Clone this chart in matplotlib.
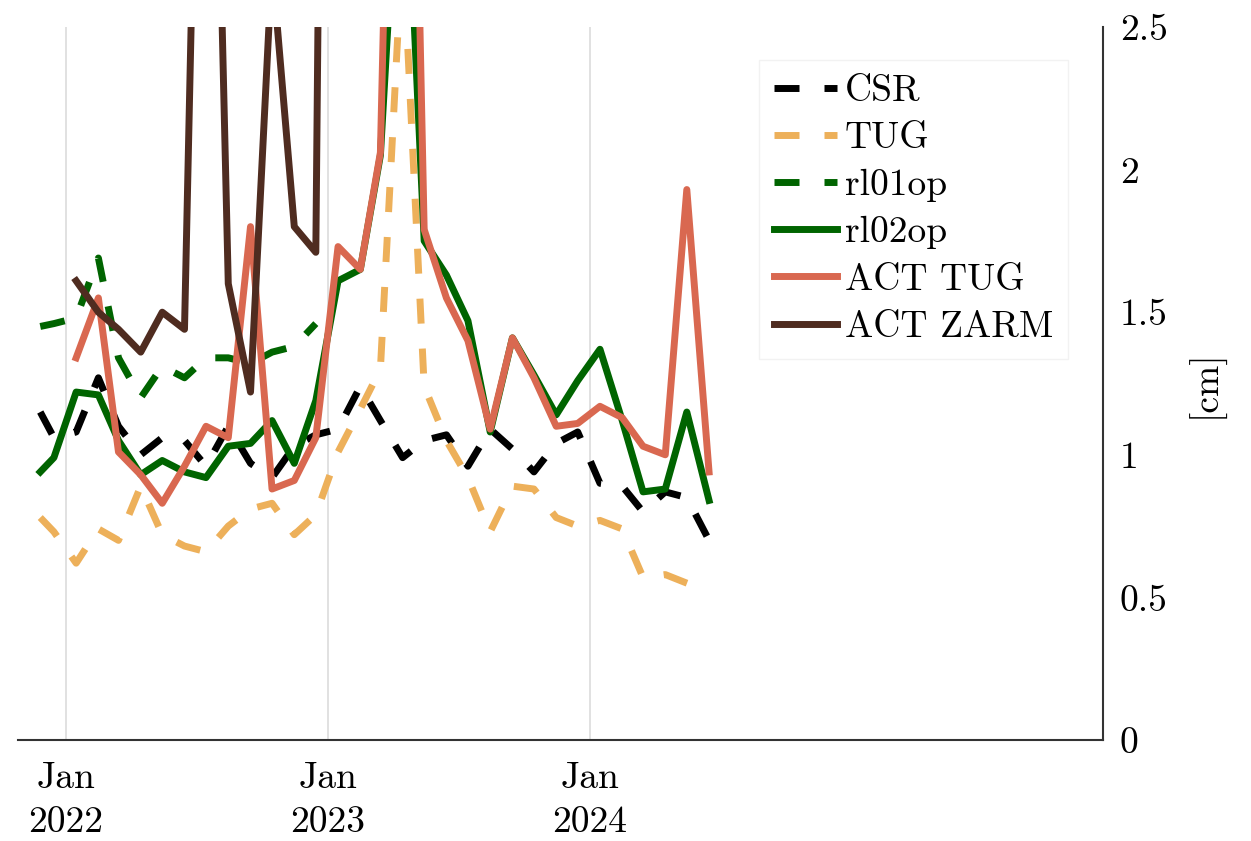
import matplotlib
matplotlib.use('Agg')
import matplotlib.pyplot as plt
import numpy as np
import pandas as pd

plt.rcParams['font.family'] = ['cmr10', 'DejaVu Serif']
plt.rcParams['axes.formatter.use_mathtext'] = True
plt.rcParams['mathtext.fontset'] = 'cm'

nan = np.nan

# monthly solutions, first one is a short end-of-Nov 2021 month
dates = pd.to_datetime(['2021-11-26']).append(
    pd.date_range('2021-12-01', '2024-06-01', freq='MS') + pd.Timedelta(days=14))

csr = [1.15, 1.06,
       1.08, 1.27, 1.10, 1.00, 1.06, 1.05, 0.96, 1.10, 0.97, 0.92, 1.03, 1.07,
       1.09, 1.24, 1.12, 0.99, 1.05, 1.07, 0.96, 1.09, 1.02, 0.94, 1.04, 1.08,
       0.90, 0.89, 0.80, 0.87, 0.85, 0.70]
tug = [0.78, 0.73,
       0.62, 0.74, 0.70, 0.89, 0.72, 0.68, 0.66, 0.75, 0.81, 0.83, 0.72, 0.79,
       1.01, 1.16, 1.30, 2.80, 1.24, 1.05, 0.92, 0.73, 0.89, 0.88, 0.78, 0.75,
       0.77, 0.74, 0.57, 0.58, 0.55, 0.52]
rl01op = [1.45, 1.46,
          1.48, 1.69, 1.34, 1.20, 1.31, 1.27, 1.34, 1.34, 1.32, 1.36, 1.38, 1.46,
          nan, nan, nan, nan, nan, nan, nan, nan, nan, nan, nan, nan,
          nan, nan, nan, nan, nan, nan]
rl02op = [0.94, 0.99,
          1.22, 1.21, 1.05, 0.93, 0.98, 0.94, 0.92, 1.03, 1.04, 1.12, 0.97, 1.19,
          1.61, 1.65, 2.05, 3.40, 1.75, 1.63, 1.47, 1.08, 1.41, 1.28, 1.14, 1.26,
          1.37, 1.12, 0.87, 0.88, 1.15, 0.84]
act_tug = [nan, nan,
           1.34, 1.55, 1.01, 0.93, 0.83, 0.96, 1.10, 1.06, 1.80, 0.88, 0.91, 1.06,
           1.73, 1.65, 2.06, 5.40, 1.79, 1.55, 1.40, 1.09, 1.41, 1.27, 1.10, 1.11,
           1.17, 1.13, 1.03, 1.00, 1.93, 0.94]
act_zarm = [nan, nan,
            1.61, 1.50, 1.44, 1.36, 1.50, 1.44, 4.90, 1.60, 1.22, 2.72, 1.80, 1.71,
            10.0, nan, nan, nan, nan, nan, nan, nan, nan, nan, nan, nan,
            nan, nan, nan, nan, nan, nan]

xticks = pd.to_datetime(['2022-01-01', '2023-01-01', '2024-01-01'])
xticklabels = ['Jan\n2022', 'Jan\n2023', 'Jan\n2024']
yticks = [0, 0.5, 1, 1.5, 2, 2.5]
yticklabels = ['0', '0.5', '1', '1.5', '2', '2.5']

fig = plt.figure(figsize=(12.51, 8.41), dpi=100)
ax = fig.add_axes([0.0144, 0.1201, 0.8673, 0.8478])

lw = 5
dash = (3.6, 3.6)
ax.plot(dates, csr, color='black', lw=lw, dashes=dash, label='CSR')
ax.plot(dates, tug, color='#edb05a', lw=lw, dashes=dash, label='TUG')
ax.plot(dates, rl01op, color='#006400', lw=lw, dashes=dash, label='rl01op')
ax.plot(dates, rl02op, color='#006400', lw=lw, label='rl02op')
ax.plot(dates, act_tug, color='#d96850', lw=lw, label='ACT TUG')
ax.plot(dates, act_zarm, color='#4f2c20', lw=lw, label='ACT ZARM')

ax.set_xlim(pd.Timestamp('2021-10-26'), pd.Timestamp('2025-12-16'))
ax.set_ylim(0, 2.5)
ax.set_xticks(xticks)
ax.set_xticklabels(xticklabels, linespacing=1.4)
ax.set_yticks(yticks)
ax.set_yticklabels(yticklabels)
ax.yaxis.tick_right()
ax.yaxis.set_label_position('right')
ax.set_ylabel('[cm]', fontsize=27, labelpad=14)
ax.tick_params(axis='both', length=0, labelsize=27)
ax.tick_params(axis='x', pad=16)
ax.tick_params(axis='y', pad=12)

for s in ['left', 'top']:
    ax.spines[s].set_visible(False)
for s in ['bottom', 'right']:
    ax.spines[s].set_color('#333333')
    ax.spines[s].set_linewidth(1.5)

ax.grid(axis='x', color='#dcdcdc', lw=1.2)
ax.set_axisbelow(True)

leg = ax.legend(loc='upper right', bbox_to_anchor=(0.968, 0.954), borderaxespad=0,
                fontsize=27, handlelength=1.7, handletextpad=0.2, labelspacing=0.37,
                borderpad=0.4, fancybox=False, framealpha=1)
leg.get_frame().set_edgecolor('#f2f2f2')

fig.savefig('out.png', dpi=100)
